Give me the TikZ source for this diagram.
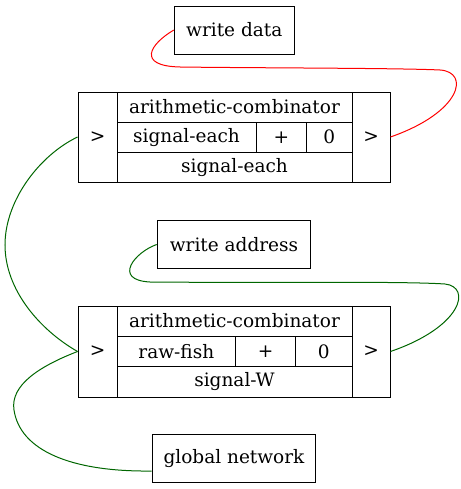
\documentclass[tikz,border=0pt]{standalone}
\usepackage{fontspec}
\setmainfont{DejaVu Serif}
\begin{document}
\begin{tikzpicture}[x=1pt,y=-1pt,
  box/.style={draw=black, line width=0.9pt, inner sep=0pt, font=\fontsize{18.5}{21}\selectfont},
  wire/.style={line width=1pt},
  redwire/.style={wire, draw=red},
  greenwire/.style={wire, draw=green!40!black}]
\useasboundingbox (0,0) rectangle (460,489);
% labels
\node[box, minimum width=120, minimum height=48] (wd) at (234.3,30) {write data};
\node[box, minimum width=153.7, minimum height=47.7] (wa) at (234,244.5) {write address};
\node[box, minimum width=163.7, minimum height=48.4] (gn) at (234,458.5) {global network};
% top combinator
\node[box, minimum width=39, minimum height=90] (ain) at (97.5,137) {>};
\node[box, minimum width=235, minimum height=30] (atitle) at (234.5,107) {arithmetic-combinator};
\node[box, minimum width=139, minimum height=30.5] (asig) at (186.5,137.25) {signal-each};
\node[box, minimum width=50.5, minimum height=30.5] (aop) at (281.25,137.25) {+};
\node[box, minimum width=45.5, minimum height=30.5] (aconst) at (329.25,137.25) {0};
\node[box, minimum width=235, minimum height=29.5] (aout) at (234.5,167.25) {signal-each};
\node[box, minimum width=38, minimum height=90] (aoutp) at (371,137) {>};
% bottom combinator
\node[box, minimum width=39, minimum height=91] (bin) at (97.5,351.5) {>};
\node[box, minimum width=235, minimum height=30] (btitle) at (234.5,321) {arithmetic-combinator};
\node[box, minimum width=118.7, minimum height=30.7] (bsig) at (176.35,351.35) {raw-fish};
\node[box, minimum width=60, minimum height=30.7] (bop) at (265.7,351.35) {+};
\node[box, minimum width=56.3, minimum height=30.7] (bconst) at (323.85,351.35) {0};
\node[box, minimum width=235, minimum height=30.3] (bout) at (234.5,381.85) {signal-W};
\node[box, minimum width=38, minimum height=91] (boutp) at (371,351.5) {>};
% wires
\draw[redwire] (wd.west) .. controls (150,44) and (136,66) .. (180,67)
  .. controls (250,68) and (400,68) .. (440,70)
  .. controls (470,72) and (462,112) .. (aoutp.east);
\draw[greenwire] (ain.west) .. controls (40,155) and (5,200) .. (5,245)
  .. controls (5,290) and (40,330) .. (bin.west);
\draw[greenwire] (wa.west) .. controls (135,252) and (112,280) .. (150,282)
  .. controls (250,283) and (400,281) .. (445,284)
  .. controls (472,287) and (462,327) .. (boutp.east);
\draw[greenwire] (bin.west) .. controls (40,366) and (10,385) .. (14,410)
  .. controls (20,450) and (70,472) .. (gn.west |- 0,471);
\end{tikzpicture}
\end{document}
